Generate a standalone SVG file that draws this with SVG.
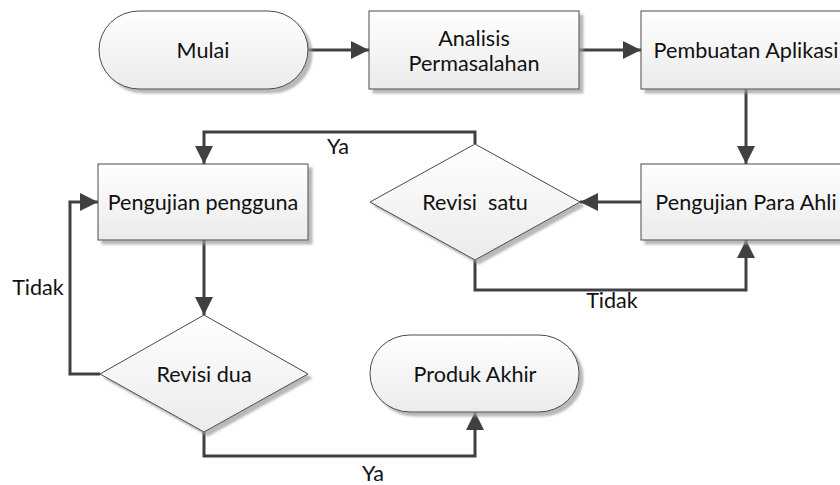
<svg xmlns="http://www.w3.org/2000/svg" width="840" height="485" viewBox="0 0 840 485">
<style>
.node{fill:url(#g);stroke:#4a4a4a;stroke-width:1;filter:url(#sh)}
.t{font-family:Lato,"Liberation Sans",sans-serif;font-size:21.6px;fill:#111;text-anchor:middle;dominant-baseline:central}
.c{fill:none;stroke:#404040;stroke-width:3;marker-end:url(#a)}
</style>
<defs>
<linearGradient id="g" x1="0" y1="0" x2="0" y2="1">
<stop offset="0" stop-color="#ffffff"/>
<stop offset="1" stop-color="#ebebeb"/>
</linearGradient>
<filter id="sh" x="-10%" y="-10%" width="130%" height="130%">
<feDropShadow dx="4" dy="4" stdDeviation="1" flood-color="#9a9a9a" flood-opacity="0.7"/>
</filter>
<marker id="a" markerUnits="userSpaceOnUse" markerWidth="19" markerHeight="18" refX="18" refY="9" orient="auto">
<path d="M0,0 L18,9 L0,18 z" fill="#404040"/>
</marker>
</defs>
<g id="connectors">
<path class="c" d="M308,50 H369"/>
<path class="c" d="M579,50 H641"/>
<path class="c" d="M746,89 V164"/>
<path class="c" d="M641,202 H580"/>
<path class="c" d="M475,144 V132 H204 V164"/>
<path class="c" d="M475,260 V290 H746 V240"/>
<path class="c" d="M204,240 V315"/>
<path class="c" d="M100,374 H70 V202 H98"/>
<path class="c" d="M204,432 V456 H475 V412"/>
<text class="t" x="338" y="146">Ya</text>
<text class="t" x="612" y="300">Tidak</text>
<text class="t" x="38" y="287">Tidak</text>
<text class="t" x="373" y="473">Ya</text>
</g>
<g id="mulai">
<rect class="node" x="99" y="11" width="209" height="78" rx="40" ry="39"/>
<text class="t" x="203" y="50">Mulai</text>
</g>
<g id="analisis">
<rect class="node" x="369" y="11" width="210" height="78"/>
<text class="t" x="474" y="38">Analisis</text>
<text class="t" x="474" y="63">Permasalahan</text>
</g>
<g id="pembuatan">
<rect class="node" x="641" y="11" width="210" height="78"/>
<text class="t" x="746" y="50">Pembuatan Aplikasi</text>
</g>
<g id="para-ahli">
<rect class="node" x="641" y="164" width="210" height="76"/>
<text class="t" x="746" y="202">Pengujian Para Ahli</text>
</g>
<g id="revisi-satu">
<polygon class="node" points="475,144 580,202 475,260 370,202"/>
<text class="t" x="475" y="202" xml:space="preserve">Revisi  satu</text>
</g>
<g id="pengujian-pengguna">
<rect class="node" x="98" y="164" width="210" height="76"/>
<text class="t" x="203" y="202">Pengujian pengguna</text>
</g>
<g id="revisi-dua">
<polygon class="node" points="204,315 308,374 204,432 100,374"/>
<text class="t" x="204" y="374">Revisi dua</text>
</g>
<g id="produk-akhir">
<rect class="node" x="370" y="335" width="209" height="77" rx="40" ry="38"/>
<text class="t" x="475" y="374">Produk Akhir</text>
</g>
</svg>
